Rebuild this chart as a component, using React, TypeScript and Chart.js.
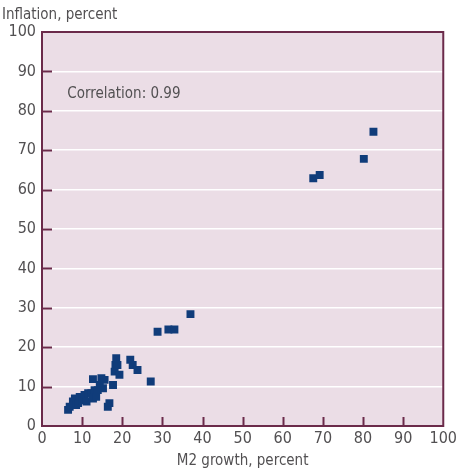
import React, { useEffect, useRef } from "react";
import { Chart, registerables } from "chart.js";

Chart.register(...registerables);

const m2Growth = [6.5, 6.9, 7.7, 8.2, 8.5, 9.0, 9.4, 10.0, 10.6, 11.1, 11.5, 12.3, 12.7, 13.1, 13.5, 12.7, 14.4, 14.8, 15.2, 15.6, 13.9, 16.8, 16.4, 17.7, 18.1, 18.3, 18.8, 19.3, 18.5, 22.0, 22.6, 23.8, 27.1, 28.8, 31.5, 33.0, 37.0, 67.6, 69.2, 80.2, 82.6];
const inflation = [4.1, 4.9, 6.2, 7.0, 5.3, 5.8, 7.4, 6.5, 7.9, 6.2, 8.3, 8.3, 7.0, 9.1, 7.4, 11.9, 10.4, 12.1, 9.6, 11.7, 9.1, 5.8, 4.9, 10.4, 13.8, 15.5, 15.5, 13.0, 17.2, 16.8, 15.5, 14.2, 11.3, 23.9, 24.5, 24.5, 28.4, 62.9, 63.7, 67.8, 74.7];
const tickValues = [0, 10, 20, 30, 40, 50, 60, 70, 80, 90, 100];
const yTitle = "Inflation, percent";
const xTitle = "M2 growth, percent";
const note = "Correlation: 0.99";

const FONT = "'Liberation Sans Narrow', 'DejaVu Sans Condensed', 'Roboto Condensed', 'Liberation Sans', sans-serif";
const AXIS = "#6b2a4a";
const TEXT = "#525052";

export default function App() {
  const ref = useRef<HTMLCanvasElement>(null);
  useEffect(() => {
    const points = m2Growth.map((x, i) => ({ x, y: inflation[i] }));
    const decor = {
      id: "decor",
      beforeDraw(chart: any) {
        const { ctx, chartArea: a } = chart;
        ctx.save();
        ctx.fillStyle = "#ebdde6";
        ctx.fillRect(a.left, a.top, a.right - a.left, a.bottom - a.top);
        ctx.restore();
      },
      afterDatasetsDraw(chart: any) {
        const { ctx, chartArea: a, scales } = chart;
        const xs = scales.x, ys = scales.y;
        ctx.save();
        ctx.strokeStyle = AXIS;
        ctx.lineWidth = 2;
        ctx.strokeRect(a.left, a.top, a.right - a.left, a.bottom - a.top);
        ctx.beginPath();
        tickValues.slice(1, -1).forEach((v) => {
          const py = Math.round(ys.getPixelForValue(v)) + 0.5;
          ctx.moveTo(a.left, py);
          ctx.lineTo(a.left + 10, py);
          const px = Math.round(xs.getPixelForValue(v)) + 0.5;
          ctx.moveTo(px, a.bottom);
          ctx.lineTo(px, a.bottom - 9);
        });
        ctx.stroke();
        ctx.fillStyle = TEXT;
        ctx.font = `15px ${FONT}`;
        ctx.textBaseline = "middle";
        ctx.textAlign = "left";
        ctx.fillText(note, xs.getPixelForValue(6.3), ys.getPixelForValue(84.3));
        ctx.font = `15px ${FONT}`;
        ctx.textBaseline = "alphabetic";
        ctx.fillText(yTitle, 2, 19);
        ctx.restore();
      },
    };
    const chart = new Chart(ref.current!, {
      type: "scatter",
      data: {
        datasets: [
          {
            data: points,
            pointStyle: "rect",
            radius: 5.6,
            backgroundColor: "#103c7a",
            borderWidth: 0,
          },
        ],
      },
      options: {
        animation: false,
        responsive: false,
        layout: { padding: { top: 32, right: 12, left: 0, bottom: 0 } },
        plugins: { legend: { display: false }, tooltip: { enabled: false } },
        scales: {
          x: {
            type: "linear",
            min: 0,
            max: 100,
            afterBuildTicks: (s: any) => { s.ticks = tickValues.map((v) => ({ value: v })); },
            afterFit: (s: any) => { s.height = 44; },
            grid: { display: false, drawTicks: false },
            border: { display: false },
            ticks: { color: TEXT, font: { family: FONT, size: 16 }, padding: 3, maxRotation: 0 },
            title: { display: true, text: xTitle, color: TEXT, font: { family: FONT, size: 15 }, padding: { top: 0, bottom: 0 } },
          },
          y: {
            type: "linear",
            min: 0,
            max: 100,
            afterBuildTicks: (s: any) => { s.ticks = tickValues.map((v) => ({ value: v })); },
            afterFit: (s: any) => { s.width = 42; },
            grid: {
              drawTicks: false,
              color: (c: any) => (c.tick && (c.tick.value === 0 || c.tick.value === 100) ? "rgba(0,0,0,0)" : "#ffffff"),
              lineWidth: 1.5,
            },
            border: { display: false },
            ticks: { color: TEXT, font: { family: FONT, size: 16 }, padding: 6 },
          },
        },
      },
      plugins: [decor],
    } as any);
    return () => chart.destroy();
  }, []);
  return (
    <div style={{ position: "absolute", left: 0, top: 0, width: 460, height: 470, background: "#ffffff" }}>
      <canvas ref={ref} width={460} height={470} style={{ width: 460, height: 470 }} />
    </div>
  );
}
